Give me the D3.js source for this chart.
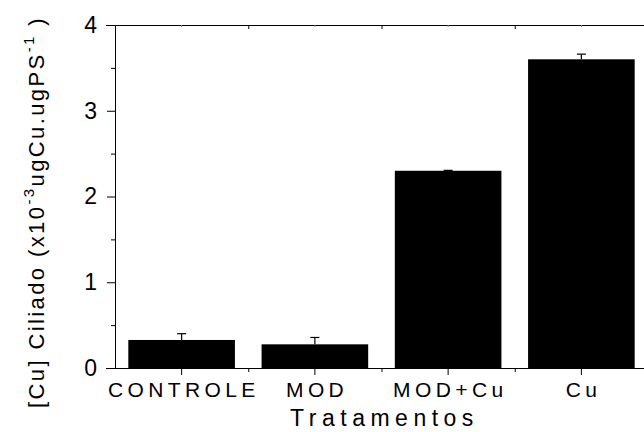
<!DOCTYPE html>
<html><head><meta charset="utf-8">
<script src="https://cdn.jsdelivr.net/npm/d3@7/dist/d3.min.js"></script>
<style>
html,body{margin:0;padding:0;background:#fff;}
svg{display:block;font-family:"Liberation Sans",Arial,sans-serif;}
</style></head>
<body>
<svg id="c" width="644" height="432"></svg>
<script>
const categories = ["CONTROLE", "MOD", "MOD+Cu", "Cu"];
const values = [0.327, 0.276, 2.30, 3.60];
const errors = [0.073, 0.08, 0.005, 0.06];
const yTicks = [0, 1, 2, 3, 4];
const yMinorTicks = [0.5, 1.5, 2.5, 3.5];
const xTitle = "Tratamentos";

const svg = d3.select("#c");
const L = 115, R = 648, T = 25, B = 368;
const x = d3.scaleBand().domain(categories).range([L, R]).paddingInner(0.2).paddingOuter(0.1);
const xi = d3.scaleLinear().domain([0, categories.length]).range([L, R]);
const y = d3.scaleLinear().domain([0, 4]).range([B, T]);
const boundaries = d3.range(1, categories.length);

// bars
svg.append("g").selectAll("rect").data(categories).join("rect")
  .attr("x", d => x(d)).attr("width", x.bandwidth())
  .attr("y", (d, i) => y(values[i])).attr("height", (d, i) => y(0) - y(values[i]))
  .attr("fill", "#000");

// error bars (upper only)
const eg = svg.append("g").attr("stroke", "#000").attr("stroke-width", 1.2);
categories.forEach((c, i) => {
  const cx = x(c) + x.bandwidth() / 2;
  eg.append("line").attr("x1", cx).attr("x2", cx).attr("y1", y(values[i])).attr("y2", y(values[i] + errors[i]));
  eg.append("line").attr("x1", cx - 4.5).attr("x2", cx + 4.5).attr("y1", y(values[i] + errors[i])).attr("y2", y(values[i] + errors[i]));
});

function styleAxis(g) {
  g.attr("font-family", null);
  g.selectAll("path,line").attr("stroke", "#000").attr("stroke-width", 1);
}

// left axis
const yAx = svg.append("g").attr("transform", `translate(${L},0)`)
  .call(d3.axisLeft(y).tickValues(yTicks).tickSize(8).tickSizeOuter(0).tickPadding(10).tickFormat(d3.format("d")));
yAx.selectAll("text").attr("font-size", 23).attr("fill", "#000");
styleAxis(yAx);
const yMin = svg.append("g").attr("transform", `translate(${L},0)`)
  .call(d3.axisLeft(y).tickValues(yMinorTicks).tickSize(4).tickSizeOuter(0).tickFormat(""));
yMin.select("path").remove();
styleAxis(yMin);

// right axis (mostly off-canvas)
const yR = svg.append("g").attr("transform", `translate(${R},0)`)
  .call(d3.axisLeft(y).tickValues(yTicks).tickSize(4).tickSizeOuter(0).tickFormat(""));
styleAxis(yR);

// bottom axis
const xAx = svg.append("g").attr("transform", `translate(0,${B})`)
  .call(d3.axisBottom(x).tickSize(7).tickSizeOuter(0).tickPadding(7));
xAx.select("path").attr("d", `M${L - 9},0.5H${R}`);
xAx.selectAll("text").attr("font-size", 21).attr("fill", "#000")
  .style("letter-spacing", "4.4px").attr("dx", "2.2px");
styleAxis(xAx);
const xMin = svg.append("g").attr("transform", `translate(0,${B})`)
  .call(d3.axisBottom(xi).tickValues(boundaries).tickSize(4).tickSizeOuter(0).tickFormat(""));
xMin.select("path").remove();
styleAxis(xMin);

// top axis
const xTop = svg.append("g").attr("transform", `translate(0,${T})`)
  .call(d3.axisBottom(xi).tickValues(boundaries).tickSize(4).tickSizeOuter(0).tickFormat(""));
xTop.select("path").attr("d", `M${L - 9},0.5H${R}`);
styleAxis(xTop);
const xTopMaj = svg.append("g").attr("transform", `translate(0,${T})`)
  .call(d3.axisBottom(x).tickSize(2).tickSizeOuter(0).tickFormat(""));
xTopMaj.select("path").remove();
styleAxis(xTopMaj);
xTopMaj.selectAll("line").attr("stroke", "#888");

// x title
svg.append("text").attr("x", (L + R) / 2 + 3).attr("y", 425.5).attr("text-anchor", "middle")
  .attr("font-size", 23).style("letter-spacing", "5.5px").attr("fill", "#000").text(xTitle);

// y title
const yt = svg.append("text").attr("transform", "translate(44,212) rotate(-90)")
  .attr("text-anchor", "middle").attr("font-size", 22).attr("fill", "#000")
  .style("letter-spacing", "2.4px");
yt.append("tspan").text("[Cu] Ciliado (x10");
yt.append("tspan").attr("font-size", 15).attr("dy", -10).text("-3");
yt.append("tspan").attr("dy", 10).text("ugCu.ugPS");
yt.append("tspan").attr("font-size", 15).attr("dy", -10).text("-1");
yt.append("tspan").attr("dy", 10).text(" )");
</script>
</body></html>
